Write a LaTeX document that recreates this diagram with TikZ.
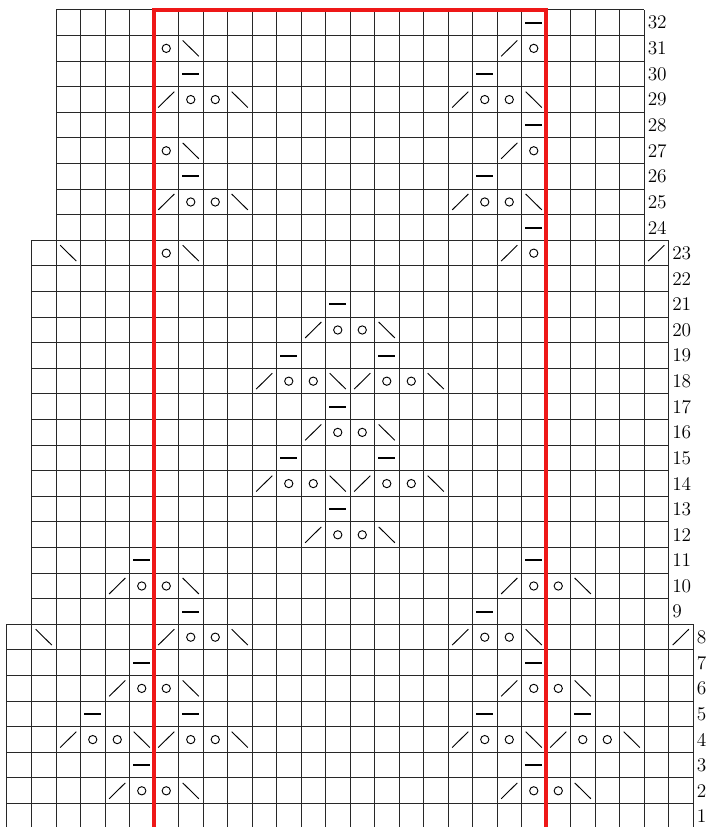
\documentclass[tikz,border=0pt]{standalone}
\usetikzlibrary{positioning}
\definecolor{chartred}{RGB}{238,24,24}
\definecolor{gridgray}{RGB}{40,40,40}
\tikzset{
  gridline/.style={draw=gridgray, line width=0.75pt, step=1},
  repeatbox/.style={draw=chartred, line width=2.3pt, line join=miter},
  symline/.style={draw=black, line width=0.7pt},
  rowlab/.style={anchor=west, inner sep=0pt, xshift=2.6pt,
                 font=\fontsize{14.5}{16}\selectfont},
  ktog/.pic={\draw[symline] (-0.33,-0.31) -- (0.33,0.31);},
  ssk/.pic={\draw[symline] (-0.33,0.31) -- (0.33,-0.31);},
  yo/.pic={\draw[symline] (0,0) circle[radius=3.1pt];},
  purlbar/.pic={\draw[black, line width=1.5pt] (-0.34,0) -- (0.34,0);}
}

\begin{document}
\begin{tikzpicture}[x=18.375pt,y=19.2pt]
\useasboundingbox (-0.2857,0.0859) rectangle (28.653,32.39);

% ── chart grid ────────────────────────────────────────────────────────────────
\draw[gridline] (0,0) grid (28,8);
\draw[gridline] (1,8) grid (27,23);
\draw[gridline] (2,23) grid (26,32);

% ── pattern repeat ────────────────────────────────────────────────────────────
\draw[repeatbox] (6,-0.4) -- (6,32) -- (22,32) -- (22,-0.4);

% ── k2tog ─────────────────────────────────────────────────────────────────────
\foreach \c/\r in {4/2,20/2, 2/4,6/4,18/4,22/4, 4/6,20/6, 6/8,18/8,27/8,
                   4/10,20/10, 12/12, 10/14,14/14, 12/16, 10/18,14/18, 12/20,
                   20/23,26/23, 6/25,18/25, 20/27, 6/29,18/29, 20/31}
  \pic at (\c+0.5,\r-0.5) {ktog};

% ── ssk ───────────────────────────────────────────────────────────────────────
\foreach \c/\r in {7/2,23/2, 5/4,9/4,21/4,25/4, 7/6,23/6, 1/8,9/8,21/8,
                   7/10,23/10, 15/12, 13/14,17/14, 15/16, 13/18,17/18, 15/20,
                   2/23,7/23, 9/25,21/25, 7/27, 9/29,21/29, 7/31}
  \pic at (\c+0.5,\r-0.5) {ssk};

% ── yarn overs ────────────────────────────────────────────────────────────────
\foreach \c/\r in {5/2,6/2,21/2,22/2, 3/4,4/4,7/4,8/4,19/4,20/4,23/4,24/4,
                   5/6,6/6,21/6,22/6, 7/8,8/8,19/8,20/8, 5/10,6/10,21/10,22/10,
                   13/12,14/12, 11/14,12/14,15/14,16/14, 13/16,14/16,
                   11/18,12/18,15/18,16/18, 13/20,14/20, 6/23,21/23,
                   7/25,8/25,19/25,20/25, 6/27,21/27, 7/29,8/29,19/29,20/29,
                   6/31,21/31}
  \pic at (\c+0.5,\r-0.5) {yo};

% ── purl bars ─────────────────────────────────────────────────────────────────
\foreach \c/\r in {5/3,21/3, 3/5,7/5,19/5,23/5, 5/7,21/7, 7/9,19/9, 5/11,21/11,
                   13/13, 11/15,15/15, 13/17, 11/19,15/19, 13/21,
                   21/24, 7/26,19/26, 21/28, 7/30,19/30, 21/32}
  \pic at (\c+0.5,\r-0.5) {purlbar};

% ── row numbers ───────────────────────────────────────────────────────────────
\foreach \r in {1,...,8}   \node[rowlab] (row\r) at (28,\r-0.5) {\r};
\foreach \r in {9,...,23}  \node[rowlab] (row\r) at (27,\r-0.5) {\r};
\foreach \r in {24,...,32} \node[rowlab] (row\r) at (26,\r-0.5) {\r};

\end{tikzpicture}
\end{document}
